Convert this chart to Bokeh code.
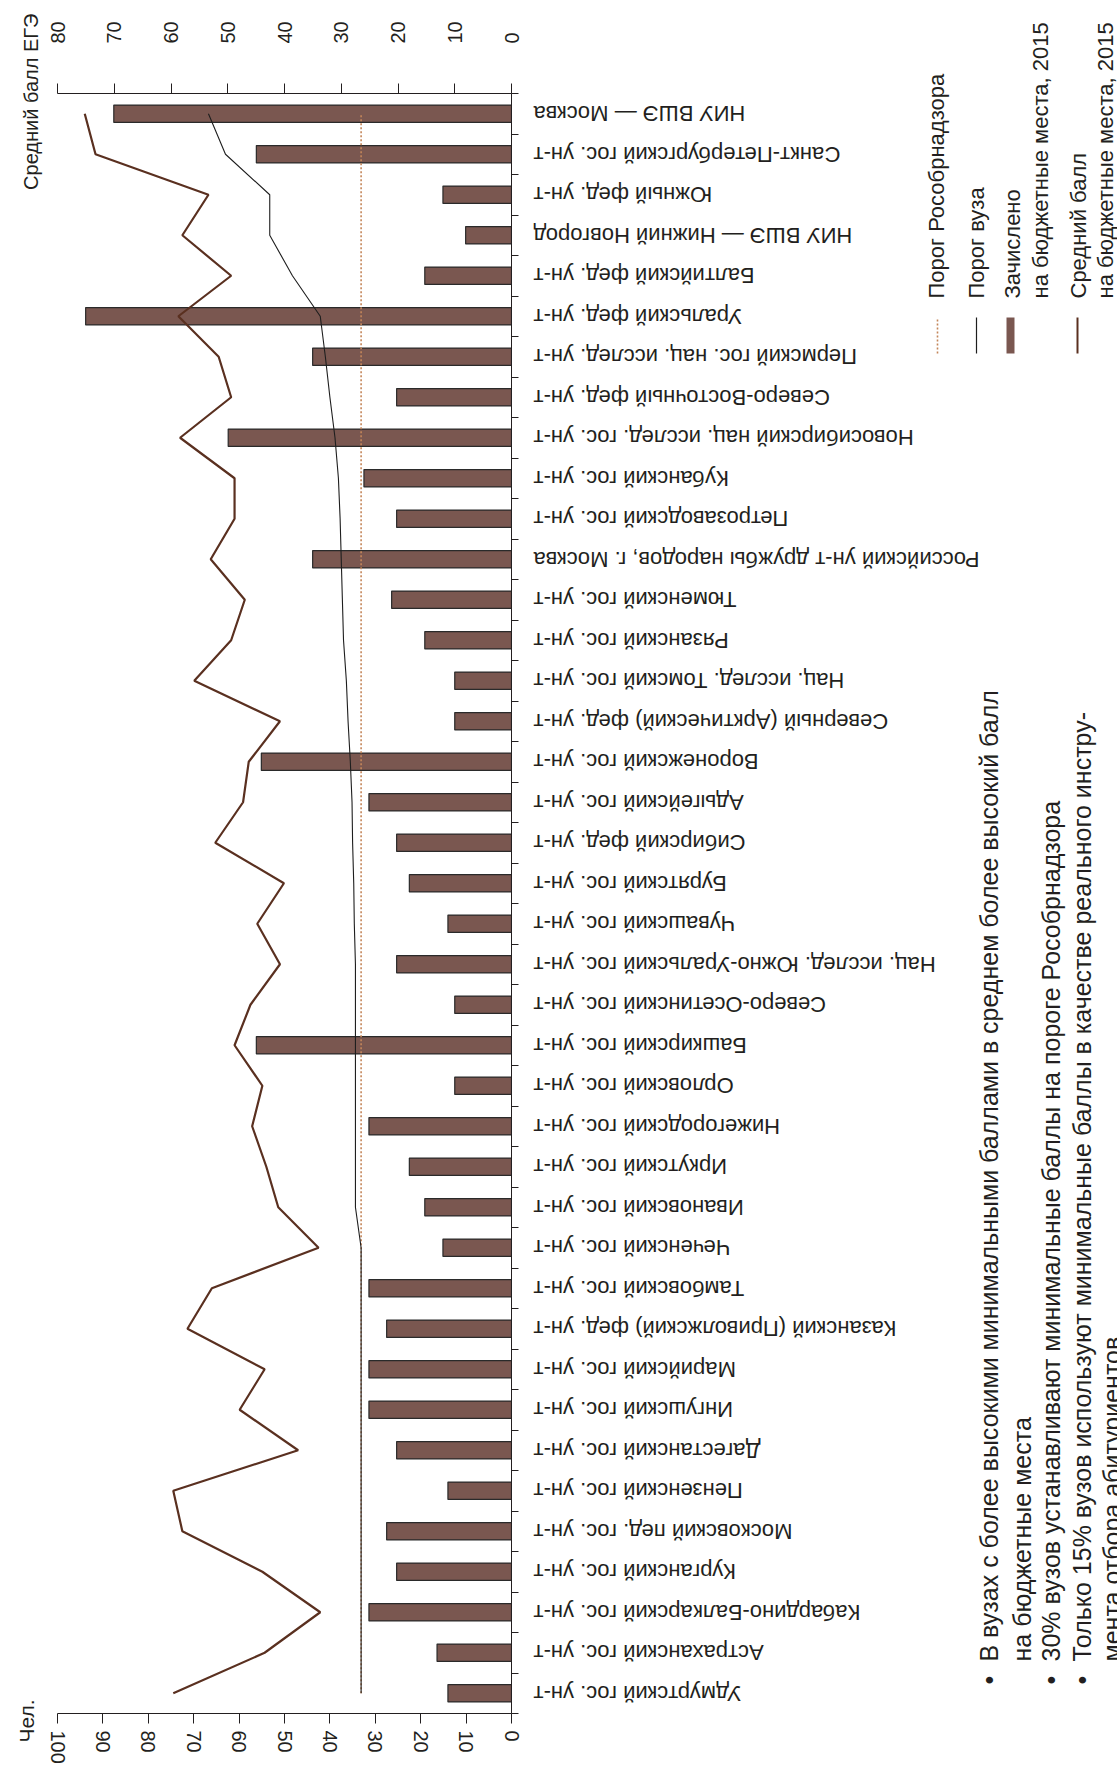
import math
from bokeh.plotting import figure
from bokeh.layouts import row, column
from bokeh.models import Range1d, LinearAxis, FixedTicker, ColumnDataSource
from bokeh.core.properties import value
from bokeh.embed import file_html
from bokeh.resources import INLINE

# ---------------- data (bottom -> top) ----------------
universities = [
    "Удмуртский гос. ун-т",
    "Астраханский гос. ун-т",
    "Кабардино-Балкарский гос. ун-т",
    "Курганский гос. ун-т",
    "Московский пед. гос. ун-т",
    "Пензенский гос. ун-т",
    "Дагестанский гос. ун-т",
    "Ингушский гос. ун-т",
    "Марийский гос. ун-т",
    "Казанский (Приволжский) фед. ун-т",
    "Тамбовский гос. ун-т",
    "Чеченский гос. ун-т",
    "Ивановский гос. ун-т",
    "Иркутский гос. ун-т",
    "Нижегородский гос. ун-т",
    "Орловский гос. ун-т",
    "Башкирский гос. ун-т",
    "Северо-Осетинский гос. ун-т",
    "Нац. исслед. Южно-Уральский гос. ун-т",
    "Чувашский гос. ун-т",
    "Бурятский гос. ун-т",
    "Сибирский фед. ун-т",
    "Адыгейский гос. ун-т",
    "Воронежский гос. ун-т",
    "Северный (Арктический) фед. ун-т",
    "Нац. исслед. Томский гос. ун-т",
    "Рязанский гос. ун-т",
    "Тюменский гос. ун-т",
    "Российский ун-т дружбы народов, г. Москва",
    "Петрозаводский гос. ун-т",
    "Кубанский гос. ун-т",
    "Новосибирский нац. исслед. гос. ун-т",
    "Северо-Восточный фед. ун-т",
    "Пермский гос. нац. исслед. ун-т",
    "Уральский фед. ун-т",
    "Балтийский фед. ун-т",
    "НИУ ВШЭ — Нижний Новгород",
    "Южный фед. ун-т",
    "Санкт-Петербургский гос. ун-т",
    "НИУ ВШЭ — Москва",
]

enrolled = [14.0, 16.4, 31.4, 25.3, 27.5, 14.0, 25.3, 31.4, 31.4, 27.5,
            31.4, 15.1, 19.1, 22.5, 31.4, 12.5, 56.2, 12.5, 25.3, 14.0,
            22.5, 25.3, 31.4, 55.1, 12.5, 12.5, 19.1, 26.4, 43.8, 25.3,
            32.5, 62.4, 25.3, 43.8, 93.8, 19.1, 10.1, 15.1, 56.2, 87.6]

avg_score = [59.6, 43.5, 33.7, 43.9, 58.0, 59.6, 37.6, 47.9, 43.5, 57.1,
             52.8, 34.0, 41.1, 43.2, 45.7, 43.9, 48.8, 46.0, 40.8, 44.8,
             40.1, 52.2, 47.3, 46.3, 40.8, 55.9, 49.4, 47.0, 53.0, 48.8,
             48.8, 58.4, 49.4, 51.6, 58.7, 49.4, 58.0, 53.4, 73.3, 75.2]

uni_threshold = [26.5, 26.5, 26.5, 26.5, 26.5, 26.5, 26.5, 26.5, 26.5, 26.5,
                 26.5, 26.5, 27.5, 27.5, 27.5, 27.5, 27.5, 27.5, 27.5, 27.7,
                 27.8, 28.0, 28.1, 28.4, 28.8, 29.1, 29.6, 29.8, 30.0, 30.2,
                 30.5, 31.1, 32.0, 32.8, 33.7, 38.6, 42.6, 42.6, 50.4, 53.4]

rosobr_threshold = 26.5

people_ticks = [0, 10, 20, 30, 40, 50, 60, 70, 80, 90, 100]
score_ticks = [0, 10, 20, 30, 40, 50, 60, 70, 80]

legend_texts = ["Порог Рособрнадзора", "Порог вуза", "Зачислено",
                "на бюджетные места, 2015", "Средний балл", "на бюджетные места, 2015"]
notes = [
    ("•", "В вузах с более высокими минимальными баллами в среднем более высокий балл"),
    ("", "на бюджетные места"),
    ("•", "30% вузов устанавливают минимальные баллы на пороге Рособрнадзора"),
    ("•", "Только 15% вузов используют минимальные баллы в качестве реального инстру-"),
    ("", "мента отбора абитуриентов"),
]

# ---------------- layout (page pixels) ----------------
H = 1783
PAGE_TOP, PAGE_BOT = 0, H
FRAME_L, FRAME_R, FRAME_T, FRAME_B = 57, 511, 93, 1713
X_LEFT_END = 46          # left strip: 0 .. 46
X_MAIN_END = 527         # main plot: 46 .. 527, side strip: 527 .. 1117
X_PAGE_END = 1117
N = len(universities)
slot = [i + 0.5 for i in range(N)]          # centre of each category slot

def dy(py):   # page px -> slot coordinate (shared by all three panels)
    return (FRAME_B - py) * N / (FRAME_B - FRAME_T)

FONT = "Liberation Sans"
INK = "#231f20"
BAR = "#7A5750"
BROWN = "#5A3020"
ORANGE = "#C4865A"

def no_align(f):
    try:
        f.frame_align = False
    except Exception:
        pass

def bare(width, x0, x1):
    f = figure(width=width, height=H, x_range=Range1d(x0, x1),
               y_range=Range1d(dy(PAGE_BOT), dy(PAGE_TOP)),
               x_axis_location=None, y_axis_location=None,
               output_backend="svg", toolbar_location=None, min_border=0)
    f.outline_line_color = None
    f.grid.visible = False
    f.background_fill_color = "white"
    f.border_fill_color = "white"
    no_align(f)
    return f

# ---------------- main plot ----------------
p = figure(width=X_MAIN_END - X_LEFT_END, height=H, x_range=Range1d(100, 0), y_range=Range1d(0, N),
           y_axis_location="right", output_backend="svg", toolbar_location=None,
           min_border_left=FRAME_L - X_LEFT_END, min_border_right=X_MAIN_END - FRAME_R,
           min_border_top=FRAME_T - PAGE_TOP, min_border_bottom=PAGE_BOT - FRAME_B)
p.outline_line_color = None
p.xgrid.visible = False
p.ygrid.visible = False
p.background_fill_color = "white"
p.border_fill_color = "white"
p.extra_x_ranges = {"score": Range1d(80, 0)}
no_align(p)

def style_axis(ax, standoff):
    ax.axis_line_color = INK
    ax.axis_line_width = 1
    ax.major_tick_line_color = INK
    ax.major_tick_out = 10
    ax.major_tick_in = 0
    ax.minor_tick_line_color = None
    ax.major_label_orientation = "vertical"
    ax.major_label_text_font = FONT
    ax.major_label_text_font_size = "20px"
    ax.major_label_text_color = INK
    ax.major_label_standoff = standoff

bx = p.xaxis[0]
bx.ticker = FixedTicker(ticks=people_ticks)
style_axis(bx, 7)

top = LinearAxis(x_range_name="score", ticker=FixedTicker(ticks=score_ticks))
style_axis(top, 40)
p.add_layout(top, "above")

ry = p.yaxis[0]
ry.ticker = FixedTicker(ticks=list(range(N + 1)))
ry.axis_line_color = INK
ry.major_tick_line_color = INK
ry.major_tick_out = 7
ry.major_tick_in = 0
ry.minor_tick_line_color = None
ry.major_label_standoff = 0
ry.major_label_text_font_size = "1px"
ry.major_label_text_alpha = 0

src = ColumnDataSource(dict(cat=universities, slot=slot, enrolled=enrolled,
                            avg=avg_score, thr=uni_threshold))

p.hbar(y="slot", left=0, right="enrolled", height=0.43, fill_color=BAR,
       line_color="#2a2a2a", line_width=1.2, source=src)
p.line(x=[rosobr_threshold, rosobr_threshold], y=[slot[0], slot[-1]],
       x_range_name="score", line_color=ORANGE, line_dash="2 2", line_width=1.6)
p.line(x="thr", y="slot", x_range_name="score", line_color="#1e1e1e", line_width=1.1, source=src)
p.line(x="avg", y="slot", x_range_name="score", line_color=BROWN, line_width=2.2, source=src)

# ---------------- left strip: axis titles ----------------
pl = bare(X_LEFT_END - PAGE_TOP, 0, X_LEFT_END)

def vtext(f, px, py, text, size, align="left"):
    f.text(x=[px], y=[dy(py)], text=[text], angle=math.pi / 2,
           text_align=align, text_baseline="middle",
           text_font=value(FONT), text_font_size=value(size), text_color=INK)

vtext(pl, 26, 1742, "Чел.", "21px")
vtext(pl, 30, 13, "Средний балл ЕГЭ", "20px", align="right")

# ---------------- right strip: category labels, legend, notes ----------------
pr = bare(X_PAGE_END - X_MAIN_END, X_MAIN_END, X_PAGE_END)
pr.text(x=533, y="slot", text="cat", source=src, angle=math.pi,
        text_align="right", text_baseline="middle",
        text_font=value(FONT), text_font_size=value("22px"), text_color=INK)

s_top, s_bot = dy(317), dy(353)
pr.segment(x0=[937], y0=[s_bot], x1=[937], y1=[s_top], line_color=ORANGE, line_dash="2 2", line_width=1.6)
pr.segment(x0=[976], y0=[s_bot], x1=[976], y1=[s_top], line_color="#1e1e1e", line_width=1.2)
pr.segment(x0=[1010], y0=[s_bot], x1=[1010], y1=[s_top], line_color=BAR, line_width=8, line_cap="butt")
pr.segment(x0=[1077], y0=[s_bot], x1=[1077], y1=[s_top], line_color=BROWN, line_width=2)
for px, t in zip([936, 976, 1012, 1040, 1078, 1105], legend_texts):
    vtext(pr, px, 298, t, "22px")

for px, (b, t) in zip([988, 1021, 1050, 1081, 1111], notes):
    if b:
        vtext(pr, px, 1684, b, "25px")
    vtext(pr, px, 1661, t, "25px")

layout = row(column(pl, spacing=0), p, column(pr, spacing=0), spacing=0)
open("out.html", "w").write(file_html(layout, INLINE))
